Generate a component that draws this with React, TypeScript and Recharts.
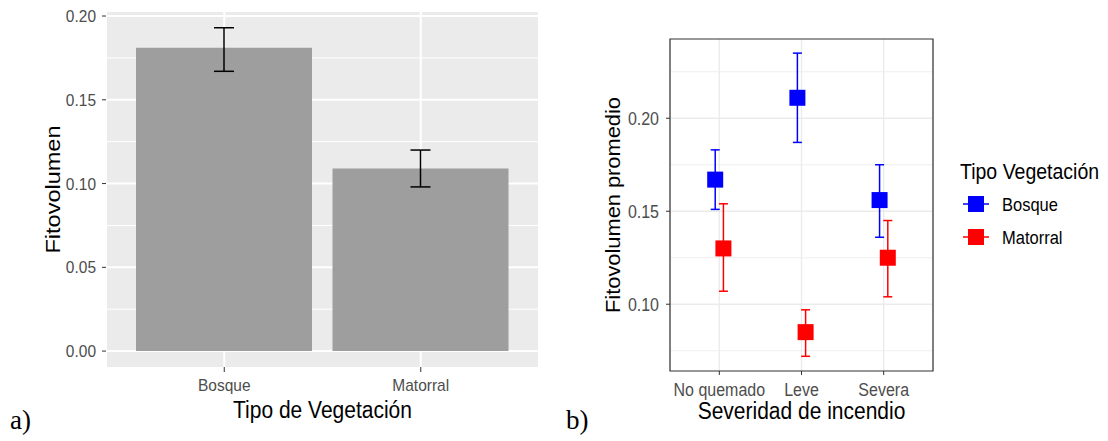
import React from 'react';
import {
  BarChart, Bar, ScatterChart, Scatter, XAxis, YAxis, CartesianGrid,
  ErrorBar, Legend, ReferenceArea,
} from 'recharts';

// a) fitovolumen por tipo de vegetación
const vegTypes = ['Bosque', 'Matorral'];
const vegMean = [0.181, 0.109];
const vegLow = [0.167, 0.098];
const vegHigh = [0.193, 0.120];

// b) fitovolumen promedio por severidad de incendio
const severities = ['No quemado', 'Leve', 'Severa'];
const bosqueMean = [0.167, 0.211, 0.156];
const bosqueLow = [0.151, 0.187, 0.136];
const bosqueHigh = [0.183, 0.235, 0.175];
const matorralMean = [0.130, 0.085, 0.125];
const matorralLow = [0.107, 0.072, 0.104];
const matorralHigh = [0.154, 0.097, 0.145];

const aTicks = [0, 0.05, 0.1, 0.15, 0.2];
const aMinor = [0.025, 0.075, 0.125, 0.175];
const bTicks = [0.1, 0.15, 0.2];
const bMinor = [0.075, 0.125, 0.175, 0.225];

const DODGE = 0.05;
const A_DOMAIN = [-0.0095, 0.2024];
const B_DOMAIN = [0.0641, 0.2426];
const STRETCH = 1.12; // the source image is a bit taller than wide

const barData = vegTypes.map((name, i) => ({
  name,
  value: vegMean[i],
  err: [vegMean[i] - vegLow[i], vegHigh[i] - vegMean[i]],
}));

const makeSeries = (mean, low, high, shift) =>
  severities.map((s, i) => ({
    x: i + 1 + shift,
    y: mean[i],
    err: [mean[i] - low[i], high[i] - mean[i]],
  }));

const bosqueData = makeSeries(bosqueMean, bosqueLow, bosqueHigh, -DODGE);
const matorralData = makeSeries(matorralMean, matorralLow, matorralHigh, DODGE);

const BLUE = '#0000FF';
const RED = '#FF0000';

// text drawn a little taller than normal, like the ggplot export
const Stretched = ({ x, y, anchor = 'middle', dy = '0', size, fill, vertical = false, children }) => (
  <text
    transform={vertical
      ? `translate(${x},${y}) rotate(-90) scale(${STRETCH},1)`
      : `translate(${x},${y}) scale(1,${STRETCH})`}
    textAnchor={anchor}
    dy={dy}
    fontSize={size}
    fill={fill}
  >
    {children}
  </text>
);

const xTick = (size, fmt) => (props) => (
  <Stretched x={props.x} y={props.y} dy="0.71em" size={size} fill="#4D4D4D">
    {fmt(props.payload.value)}
  </Stretched>
);

const yTick = (size) => (props) => (
  <Stretched x={props.x} y={props.y} anchor="end" dy="0.355em" size={size} fill="#4D4D4D">
    {Number(props.payload.value).toFixed(2)}
  </Stretched>
);

const xTitle = (text, size, offset) => (props) => {
  const { x, y, width, height } = props.viewBox;
  return (
    <Stretched x={x + width / 2} y={y + height - offset} size={size} fill="#000">{text}</Stretched>
  );
};

const yTitle = (text, size, cx) => (props) => {
  const { y, height } = props.viewBox;
  return (
    <Stretched x={cx} y={y + height / 2} dy="0.355em" size={size} fill="#000" vertical>{text}</Stretched>
  );
};

const square = (color) => (props) => {
  const { cx, cy } = props;
  if (cx == null || cy == null) return null;
  return <rect x={cx - 8} y={cy - 8} width={16} height={16} fill={color} />;
};

const renderLegend = (props) => {
  const { payload } = props;
  const st = { display: 'inline-block', transform: `scaleY(${STRETCH})` };
  return (
    <div style={{ fontFamily: '"Liberation Sans", Arial, sans-serif', color: '#000' }}>
      <div style={{ fontSize: 19.5, lineHeight: '22px', height: 27.5 }}>
        <span style={st}>Tipo Vegetación</span>
      </div>
      {(payload || []).map((entry) => (
        <div key={entry.value} style={{ display: 'flex', alignItems: 'center', height: 33 }}>
          <svg width={26} height={18} style={{ marginLeft: 3 }}>
            <line x1={0} y1={9} x2={26} y2={9} stroke={entry.color} strokeWidth={1.5} />
            <rect x={5} y={1} width={16} height={16} fill={entry.color} />
          </svg>
          <span style={{ ...st, fontSize: 16.5, marginLeft: 13 }}>{entry.value}</span>
        </div>
      ))}
    </div>
  );
};

const PanelA = () => (
  <BarChart width={560} height={441} data={barData} margin={{ top: 12, right: 21, bottom: 0, left: 0 }}>
    <CartesianGrid fill="#EBEBEB" stroke="#FFFFFF" strokeWidth={1} vertical={false} horizontalValues={aMinor} />
    <CartesianGrid stroke="#FFFFFF" strokeWidth={2} horizontalValues={aTicks} />
    <XAxis
      dataKey="name"
      padding={{ left: 20, right: 20 }}
      height={74}
      axisLine={false}
      tickSize={5}
      tickMargin={7}
      tickLine={{ stroke: '#333333' }}
      tick={xTick(15.5, (v) => v)}
      label={xTitle('Tipo de Vegetación', 21, 23)}
    />
    <YAxis
      width={106}
      domain={A_DOMAIN}
      allowDataOverflow
      ticks={aTicks}
      axisLine={false}
      tickSize={4}
      tickMargin={6}
      tickLine={{ stroke: '#333333' }}
      tick={yTick(15.5)}
      label={yTitle('Fitovolumen', 21, 53)}
    />
    <Bar dataKey="value" fill="#9E9E9E" barSize={176} isAnimationActive={false}>
      <ErrorBar dataKey="err" width={10} stroke="#000000" strokeWidth={1.5} />
    </Bar>
  </BarChart>
);

const PanelB = () => (
  <ScatterChart width={548} height={441} margin={{ top: 39, right: 175, bottom: 0, left: 0 }}>
    <CartesianGrid stroke="#EBEBEB" strokeWidth={0.8} vertical={false} horizontalValues={bMinor} />
    <CartesianGrid stroke="#EBEBEB" strokeWidth={1.3} horizontalValues={bTicks} />
    <XAxis
      type="number"
      dataKey="x"
      domain={[0.4, 3.6]}
      allowDataOverflow
      ticks={[1, 2, 3]}
      height={70}
      axisLine={false}
      tickSize={4}
      tickMargin={8}
      tickLine={{ stroke: '#333333' }}
      tick={xTick(16, (v) => severities[v - 1] ?? '')}
      label={xTitle('Severidad de incendio', 21, 22)}
    />
    <YAxis
      type="number"
      dataKey="y"
      width={110}
      domain={B_DOMAIN}
      allowDataOverflow
      ticks={bTicks}
      axisLine={false}
      tickSize={4}
      tickMargin={7}
      tickLine={{ stroke: '#333333' }}
      tick={yTick(16)}
      label={yTitle('Fitovolumen promedio', 19.5, 53)}
    />
    <Scatter name="Bosque" data={bosqueData} fill={BLUE} shape={square(BLUE)} isAnimationActive={false}>
      <ErrorBar dataKey="err" direction="y" width={4.5} stroke={BLUE} strokeWidth={1.5} />
    </Scatter>
    <Scatter name="Matorral" data={matorralData} fill={RED} shape={square(RED)} isAnimationActive={false}>
      <ErrorBar dataKey="err" direction="y" width={4.5} stroke={RED} strokeWidth={1.5} />
    </Scatter>
    <ReferenceArea
      x1={0.4}
      x2={3.6}
      y1={B_DOMAIN[0]}
      y2={B_DOMAIN[1]}
      fill="none"
      stroke="#333333"
      strokeWidth={1.2}
      ifOverflow="visible"
    />
    <Legend
      layout="vertical"
      align="center"
      verticalAlign="middle"
      wrapperStyle={{ left: 400, top: 160, width: 148 }}
      content={renderLegend}
    />
  </ScatterChart>
);

export default function App() {
  return (
    <div
      style={{
        position: 'absolute', left: 0, top: 0, width: 1108, height: 441,
        background: '#FFFFFF', fontFamily: '"Liberation Sans", Arial, sans-serif', overflow: 'hidden',
      }}
    >
      <div style={{ position: 'absolute', left: 0, top: 0 }}>
        <PanelA />
      </div>
      <div style={{ position: 'absolute', left: 560, top: 0 }}>
        <PanelB />
      </div>
      <div style={{ position: 'absolute', left: 10, top: 405, fontFamily: '"Liberation Serif", "Times New Roman", serif', fontSize: 27 }}>a)</div>
      <div style={{ position: 'absolute', left: 566, top: 405, fontFamily: '"Liberation Serif", "Times New Roman", serif', fontSize: 27 }}>b)</div>
    </div>
  );
}
